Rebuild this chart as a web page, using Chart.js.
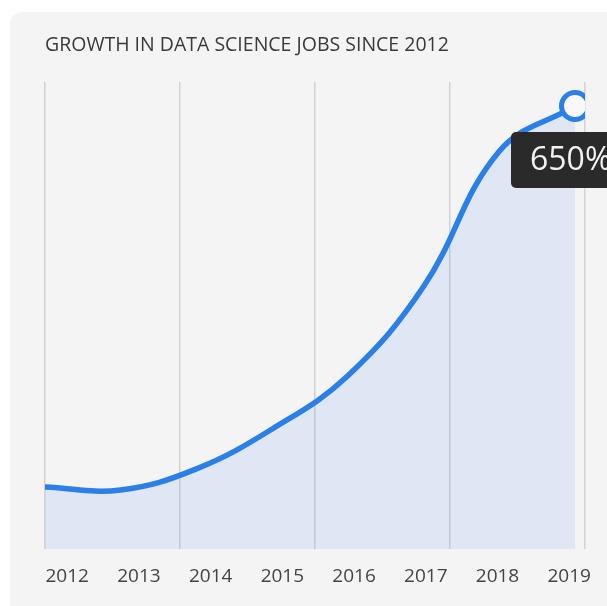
<!DOCTYPE html>
<html>
<head>
<meta charset="utf-8">
<script src="https://cdn.jsdelivr.net/npm/chart.js@4.4.0/dist/chart.umd.min.js"></script>
<style>
  html, body { margin: 0; padding: 0; background: #fff; overflow: hidden; }
  #card { position: absolute; left: 10px; top: 12px; width: 660px; height: 660px; background: #f4f4f4; border-radius: 12px; }
  #chart { position: absolute; left: 0; top: 0; }
</style>
</head>
<body>
<div id="card"></div>
<canvas id="chart" width="607" height="606"></canvas>
<script>
// chart data
const years = [2012, 2013, 2014, 2015, 2016, 2017, 2018, 2019];
const growth = [0, -5, 31, 99, 190, 342, 573, 650];   // % growth since 2012
const titleText = "GROWTH IN DATA SCIENCE JOBS SINCE 2012";

const lineColor = "#2a7fe8";
const fontFamily = "'Open Sans', sans-serif";

// Dark callout box next to the last point
const calloutPlugin = {
    id: "callout",
    afterDraw(chart) {
        const meta = chart.getDatasetMeta(0);
        const last = meta.data[meta.data.length - 1];
        const ctx = chart.ctx;
        const bx = last.x - 64;
        const by = last.y + 26;
        ctx.save();
        ctx.fillStyle = "#2a2a2a";
        ctx.beginPath();
        ctx.roundRect(bx, by, 120, 56, 5);
        ctx.fill();
        ctx.fillStyle = "#f2f2f2";
        ctx.font = "32px " + fontFamily;
        ctx.textBaseline = "middle";
        ctx.fillText(growth[growth.length - 1] + "%", bx + 19, by + 29);
        ctx.restore();
    }
};

const lastIdx = growth.length - 1;

new Chart(document.getElementById("chart"), {
    type: "line",
    data: {
        datasets: [{
            data: growth.map((v, i) => ({ x: i, y: v })),
            borderColor: lineColor,
            borderWidth: 5.5,
            backgroundColor: "rgba(41, 121, 255, 0.1)",
            fill: "start",
            tension: 0.4,
            pointRadius: growth.map((v, i) => i === lastIdx ? 13.5 : 0),
            pointBorderWidth: 5,
            pointBackgroundColor: "#f8f8f8",
            pointBorderColor: lineColor
        }]
    },
    plugins: [calloutPlugin],
    options: {
        responsive: false,
        animation: false,
        events: [],
        layout: { autoPadding: false, padding: { left: 45, right: 22, top: 0, bottom: 2 } },
        plugins: {
            legend: { display: false },
            tooltip: { enabled: false },
            title: {
                display: true,
                text: titleText,
                align: "start",
                color: "#3a3a3a",
                font: { family: fontFamily, size: 19.5, weight: "normal" },
                padding: { top: 34.1, bottom: 24.5 }
            }
        },
        scales: {
            x: {
                type: "linear",
                min: 0,
                max: (years.length - 1) * 540 / 530,
                afterBuildTicks: axis => {
                    axis.ticks = [0, 1, 2, 3, 4].map(i => ({ value: axis.max * i / 4 }));
                },
                ticks: { display: false },
                grid: { color: "#d2d2d2", lineWidth: 1.5, drawTicks: false },
                border: { display: false }
            },
            years: {
                type: "linear",
                position: "bottom",
                min: 2011.69,
                max: 2019.22,
                afterBuildTicks: axis => {
                    axis.ticks = years.map(v => ({ value: v }));
                },
                afterFit: axis => {
                    axis.paddingLeft = 0;
                    axis.paddingRight = 0;
                },
                ticks: {
                    padding: 16,
                    color: "#444",
                    font: { family: fontFamily, size: 19 },
                    callback: value => String(value)
                },
                grid: { display: false, drawTicks: false },
                border: { display: false }
            },
            y: { display: false, min: -106, max: 691 }
        }
    }
});
</script>
</body>
</html>
